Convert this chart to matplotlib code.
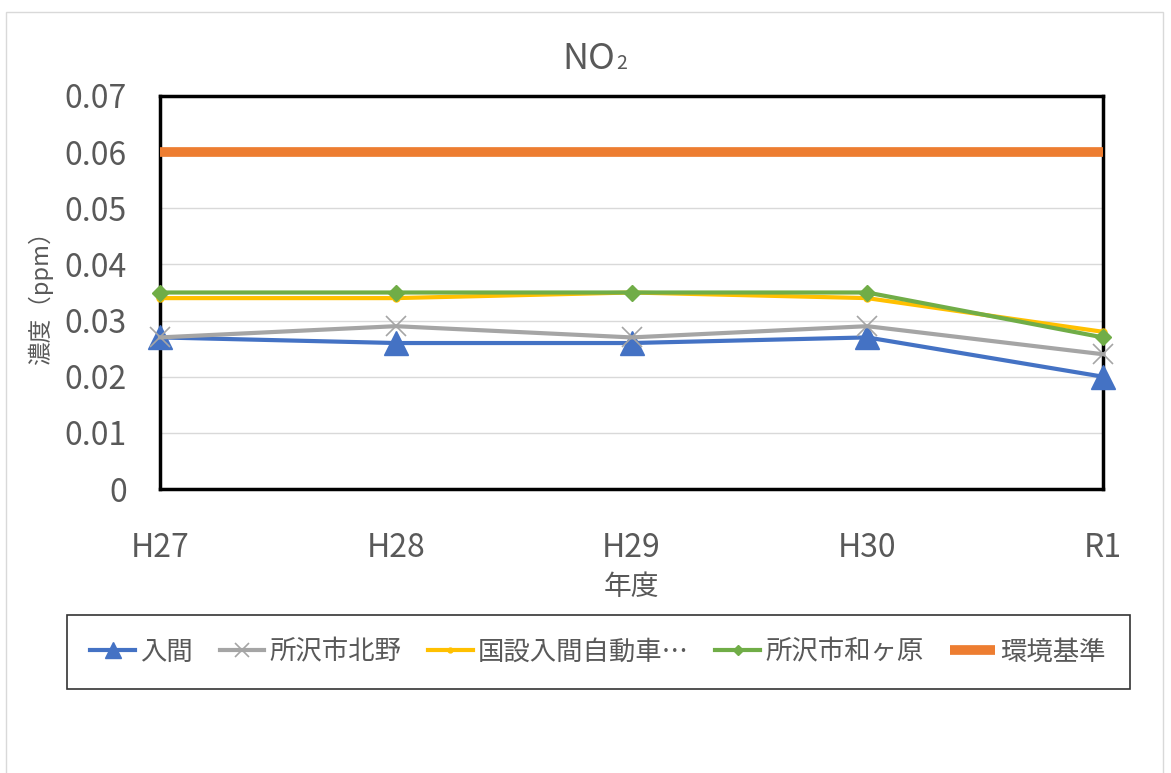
import matplotlib.pyplot as plt
from matplotlib.patches import Rectangle

plt.rcParams['font.family'] = ['Noto Sans CJK JP', 'DejaVu Sans']

years = ["H27", "H28", "H29", "H30", "R1"]
iruma = [0.027, 0.026, 0.026, 0.027, 0.020]
kitano = [0.027, 0.029, 0.027, 0.029, 0.024]
kokusetsu = [0.034, 0.034, 0.035, 0.034, 0.028]
wagahara = [0.035, 0.035, 0.035, 0.035, 0.027]
standard = [0.06, 0.06, 0.06, 0.06, 0.06]

names = ["入間", "所沢市北野", "国設入間自動車…", "所沢市和ヶ原", "環境基準"]
grey_text = "#595959"

W, H = 1171, 773
fig = plt.figure(figsize=(W / 100, H / 100), dpi=100)
ax = fig.add_axes([160 / W, 1 - 489 / H, (1103 - 160) / W, (489 - 96) / H])

x = list(range(len(years)))
ax.plot(x, iruma, color="#4472C4", lw=3, marker="^", ms=17, label=names[0], clip_on=False, zorder=3)
ax.plot(x, kitano, color="#A5A5A5", lw=3, marker="x", ms=15, mew=1.2, label=names[1], clip_on=False, zorder=4)
ax.plot(x, kokusetsu, color="#FFC000", lw=3, marker="o", ms=5, label=names[2], clip_on=False, zorder=5)
ax.plot(x, wagahara, color="#70AD47", lw=3, marker="D", ms=8, label=names[3], clip_on=False, zorder=6)
ax.plot(x, standard, color="#ED7D31", lw=7, label=names[4], solid_capstyle="butt", zorder=7)

ax.set_xlim(0, 4)
ax.set_ylim(0, 0.07)
ax.set_yticks([0, 0.01, 0.02, 0.03, 0.04, 0.05, 0.06, 0.07])
ax.set_yticklabels(["0", "0.01", "0.02", "0.03", "0.04", "0.05", "0.06", "0.07"])
ax.set_xticks(x)
ax.set_xticklabels(years)
ax.tick_params(axis="both", length=0, labelcolor=grey_text)
ax.tick_params(axis="x", pad=31, labelsize=23)
ax.tick_params(axis="y", pad=24, labelsize=23)
ax.grid(axis="y", color="#D9D9D9", lw=1)
ax.set_axisbelow(True)
for s in ax.spines.values():
    s.set_color("black")
    s.set_linewidth(2.5)

# title with a small "2" sitting on the baseline
fig.text(615 / W, 1 - 69 / H, "NO", ha="right", va="baseline", fontsize=26, color=grey_text)
fig.text(616 / W, 1 - 69 / H, "2", ha="left", va="baseline", fontsize=14, color=grey_text)

ax.set_xlabel("年度", fontsize=20, color=grey_text, labelpad=6)
ax.set_ylabel("濃度（ppm）", fontsize=17, color=grey_text, labelpad=8)

leg = fig.legend(loc="center", bbox_to_anchor=(598 / W, 1 - 652 / H), ncol=5,
                 fontsize=19, frameon=True, fancybox=False, edgecolor="black",
                 handlelength=1.7, handletextpad=0.2, columnspacing=1.0,
                 borderpad=0.9, markerscale=0.7, labelcolor=grey_text)
leg.get_frame().set_linewidth(1.2)

fig.patches.append(Rectangle((6 / W, -0.01), (1163 - 6) / W, 1 - 12 / H + 0.01,
                             transform=fig.transFigure, fill=False, edgecolor="#D9D9D9", lw=1))

fig.savefig("out.png", dpi=100)
